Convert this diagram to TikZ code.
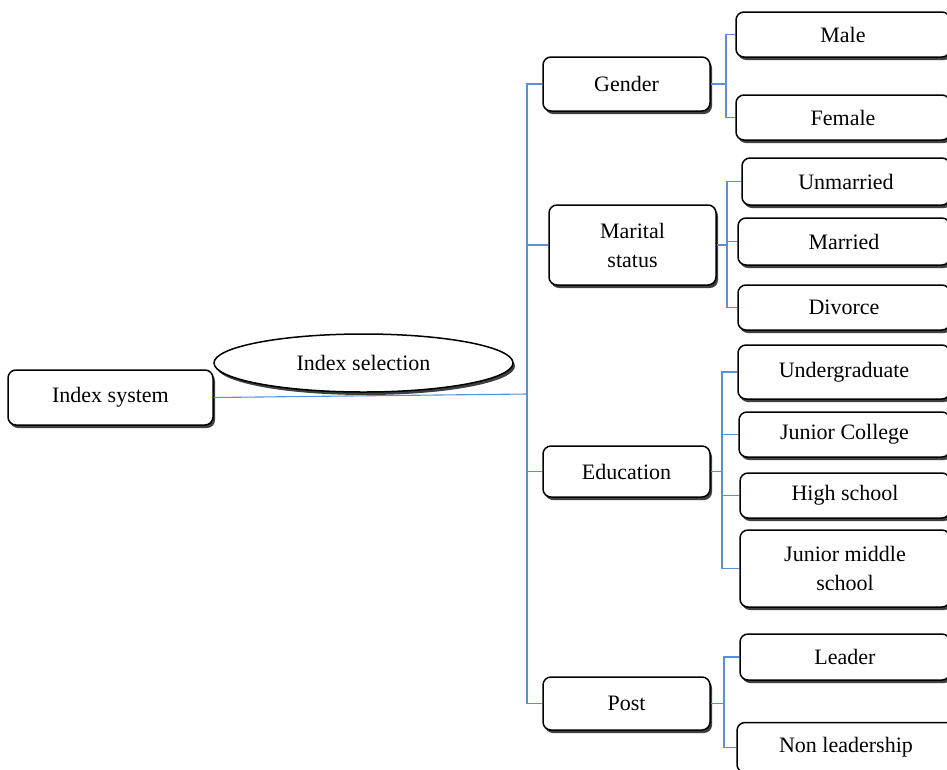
\documentclass[tikz,border=0pt]{standalone}
\usepackage{fontspec}
\setmainfont{Liberation Serif}
\usetikzlibrary{shapes.geometric,shadows}
\tikzset{
  box/.style={draw=black, line width=1.5pt, rounded corners=8pt, fill=white,
    align=center, inner sep=0pt, font=\fontsize{22}{29}\selectfont,
    drop shadow={shadow xshift=2pt, shadow yshift=-3pt, fill=black!75, opacity=1}},
  oval/.style={draw=black, line width=1.5pt, ellipse, fill=white, inner sep=0pt,
    font=\fontsize{22}{29}\selectfont,
    drop shadow={shadow xshift=2pt, shadow yshift=-3pt, fill=black!75, opacity=1}},
  link/.style={draw=linkblue, line width=1.1pt}
}
\definecolor{linkblue}{HTML}{5B8FDA}
\begin{document}
\begin{tikzpicture}[x=1pt,y=-1pt]
\useasboundingbox (0,0) rectangle (947,769);
\clip (0,0) rectangle (947,769);
% junction coordinates
\coordinate (bm) at (527,394);
\coordinate (gj) at (726,80);
\coordinate (mj) at (727,244);
\coordinate (ej) at (722,470);
\coordinate (pj) at (724,704);
% boxes
\node[box, minimum width=205pt, minimum height=55pt] (sys) at (110.5,397.5) {Index system};
\node[box, minimum width=167pt, minimum height=54pt] (gender) at (626.5,84) {Gender};
\node[box, minimum width=167pt, minimum height=80pt] (marital) at (632.5,245) {Marital\\status};
\node[box, minimum width=167pt, minimum height=51pt] (education) at (626.5,471.5) {Education};
\node[box, minimum width=167pt, minimum height=53pt] (post) at (626.5,703.5) {Post};
\node[box, minimum width=214pt, minimum height=45pt] (male) at (843,34.5) {Male};
\node[box, minimum width=214pt, minimum height=45pt] (female) at (843,117.5) {Female};
\node[box, minimum width=208pt, minimum height=47pt] (unmarried) at (846,181.5) {Unmarried};
\node[box, minimum width=212pt, minimum height=47pt] (married) at (844,241.5) {Married};
\node[box, minimum width=212pt, minimum height=45pt] (divorce) at (844,307.5) {Divorce};
\node[box, minimum width=212pt, minimum height=54pt] (undergrad) at (844,372) {Undergraduate};
\node[box, minimum width=211pt, minimum height=45pt] (jcollege) at (844.5,434.5) {Junior College};
\node[box, minimum width=210pt, minimum height=45pt] (hschool) at (845,495.5) {High school};
\node[box, minimum width=210pt, minimum height=77pt] (jmiddle) at (845,568.5) {Junior middle\\school};
\node[box, minimum width=210pt, minimum height=46pt] (leader) at (845,657) {Leader};
\node[box, minimum width=218pt, minimum height=50pt] (nonlead) at (846,747.5) {Non leadership};
\node[oval, minimum width=299pt, minimum height=58pt] (sel) at (363.5,363) {Index selection};
% main bracket
\draw[link] (sys.east) -- (bm);
\draw[link] (gender.west) -| (bm) |- (post.west);
\draw[link] (marital.west) -- (marital.west -| bm);
\draw[link] (education.west) -- (education.west -| bm);
% gender
\draw[link] (gender.east) -- (gender.east -| gj);
\draw[link] (male.west) -| (gj) |- (female.west);
% marital
\draw[link] (marital.east) -- (marital.east -| mj);
\draw[link] (unmarried.west) -| (mj) |- (divorce.west);
\draw[link] (married.west) -- (married.west -| mj);
% education
\draw[link] (education.east) -- (education.east -| ej);
\draw[link] (undergrad.west) -| (ej) |- (jmiddle.west);
\draw[link] (jcollege.west) -- (jcollege.west -| ej);
\draw[link] (hschool.west) -- (hschool.west -| ej);
% post
\draw[link] (post.east) -- (post.east -| pj);
\draw[link] (leader.west) -| (pj) |- (nonlead.west);
\end{tikzpicture}
\end{document}
